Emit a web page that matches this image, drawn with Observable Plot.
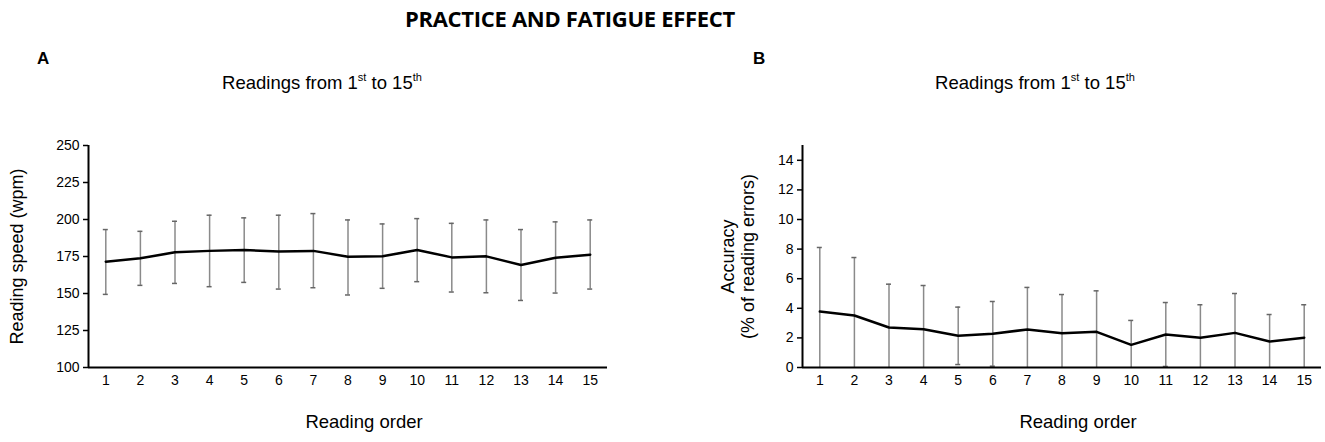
<!DOCTYPE html>
<html>
<head>
<meta charset="utf-8">
<script src="https://cdn.jsdelivr.net/npm/d3@7"></script>
<script src="https://cdn.jsdelivr.net/npm/@observablehq/plot@0.6"></script>
<style>
  body { margin: 0; background: #fff; }
  #wrap { position: relative; width: 1325px; height: 442px; font-family: "Liberation Sans", Arial, sans-serif; color: #000; }
  #wrap svg { position: absolute; top: 0; }
  #wrap svg g[aria-label="x-axis tick label"], #wrap svg g[aria-label="y-axis tick label"] { font-size: 14px; }
  .title { position: absolute; top: 3px; left: 0; width: 1140px; text-align: center; font-family: "Open Sans", sans-serif; font-weight: 700; font-size: 22px; letter-spacing: -0.3px; }
  .letter { position: absolute; top: 49px; font-weight: 700; font-size: 17px; }
  .sub { position: absolute; top: 72px; font-size: 18.5px; white-space: nowrap; transform: translateX(-50%); }
  .sub sup { font-size: 11px; vertical-align: 8px; line-height: 0; }
</style>
</head>
<body>
<div id="wrap">
  <div class="title">PRACTICE AND FATIGUE EFFECT</div>
  <div class="letter" style="left:37px">A</div>
  <div class="letter" style="left:753px">B</div>
  <div class="sub" style="left:322px">Readings from 1<sup>st</sup> to 15<sup>th</sup></div>
  <div class="sub" style="left:1035px">Readings from 1<sup>st</sup> to 15<sup>th</sup></div>
</div>
<script>
// Reading order (x categories / tick labels)
const readingOrder = [1, 2, 3, 4, 5, 6, 7, 8, 9, 10, 11, 12, 13, 14, 15];

// Panel A: reading speed (wpm), mean and error-bar ends
const speedMean  = [171.5, 173.8, 177.8, 178.8, 179.4, 178.3, 178.8, 174.9, 175.1, 179.4, 174.4, 175.1, 169.3, 174.2, 176.2];
const speedUpper = [193.2, 192.0, 198.8, 202.9, 201.1, 202.9, 204.0, 199.7, 197.0, 200.6, 197.4, 199.7, 193.2, 198.4, 199.7];
const speedLower = [149.4, 155.5, 156.8, 154.6, 157.5, 153.0, 153.9, 149.0, 153.5, 158.0, 151.0, 150.5, 145.3, 150.3, 153.0];
const speedTicks = [100, 125, 150, 175, 200, 225, 250];

// Panel B: accuracy (% of reading errors), mean and error-bar ends
const errMean  = [3.78, 3.51, 2.70, 2.59, 2.14, 2.28, 2.57, 2.32, 2.41, 1.53, 2.23, 2.01, 2.34, 1.76, 2.01];
const errUpper = [8.11, 7.43, 5.63, 5.54, 4.08, 4.46, 5.41, 4.93, 5.18, 3.18, 4.39, 4.24, 5.00, 3.58, 4.24];
const errLower = [0, 0, 0, 0, 0.20, 0.09, 0, 0, 0, 0, 0.07, 0, 0, 0, 0];
const errTicks = [0, 2, 4, 6, 8, 10, 12, 14];

const xLabel = "Reading order";
const yLabelA = "Reading speed (wpm)";
const yLabelB = "Accuracy\n(% of reading errors)";

function rows(mean, lo, hi) {
  return readingOrder.map((r, i) => ({r, m: mean[i], lo: lo[i], hi: hi[i]}));
}

function panel({data, yDomain, yTicks, width, marginLeft, marginRight, yLabel, yLabelDx, xLabelDx}) {
  return Plot.plot({
    width, height: 442,
    marginTop: 145, marginBottom: 75, marginLeft, marginRight,
    style: {fontFamily: '"Liberation Sans", Arial, sans-serif', fontSize: "14px", color: "#000", background: "transparent"},
    x: {type: "linear", domain: [0.5, 15.5]},
    y: {domain: yDomain},
    marks: [
      Plot.axisX({ticks: readingOrder, tickFormat: d => d, tickSize: 0, tickPadding: 8, fontSize: 14, label: null}),
      Plot.axisY({ticks: yTicks, tickFormat: d => d, tickSize: 5, tickPadding: 4, strokeWidth: 1.5, fontSize: 14, label: null}),
      Plot.ruleX(data, {x: "r", y1: "lo", y2: "hi", stroke: "#8a8a8a", strokeWidth: 1.5}),
      Plot.ruleY(data, {y: "hi", x1: "r", x2: "r", insetLeft: -2.5, insetRight: -2.5, stroke: "#666", strokeWidth: 1.5}),
      Plot.ruleY(data.filter(d => d.lo > yDomain[0]), {y: "lo", x1: "r", x2: "r", insetLeft: -2.5, insetRight: -2.5, stroke: "#666", strokeWidth: 1.5}),
      Plot.line(data, {x: "r", y: "m", stroke: "#000", strokeWidth: 2.5}),
      Plot.ruleX([0.5], {stroke: "#000", strokeWidth: 2}),
      Plot.ruleY([yDomain[0]], {stroke: "#000", strokeWidth: 2}),
      Plot.text([yLabel], {text: d => d, frameAnchor: "left", textAnchor: "middle", rotate: -90, dx: yLabelDx, fontSize: 18, lineHeight: 1.1}),
      Plot.text([xLabel], {text: d => d, frameAnchor: "bottom", dy: 60, dx: xLabelDx, fontSize: 18.5})
    ]
  });
}

const wrap = document.getElementById("wrap");

const a = panel({
  data: rows(speedMean, speedLower, speedUpper),
  yDomain: [100, 250], yTicks: speedTicks,
  width: 662, marginLeft: 88, marginRight: 55,
  yLabel: yLabelA, yLabelDx: -72, xLabelDx: 16
});
a.style.left = "0px";
wrap.appendChild(a);

const b = panel({
  data: rows(errMean, errLower, errUpper),
  yDomain: [0, 15], yTicks: errTicks,
  width: 663, marginLeft: 140, marginRight: 4,
  yLabel: yLabelB, yLabelDx: -65, xLabelDx: 16
});
b.style.left = "662px";
wrap.appendChild(b);
</script>
</body>
</html>
